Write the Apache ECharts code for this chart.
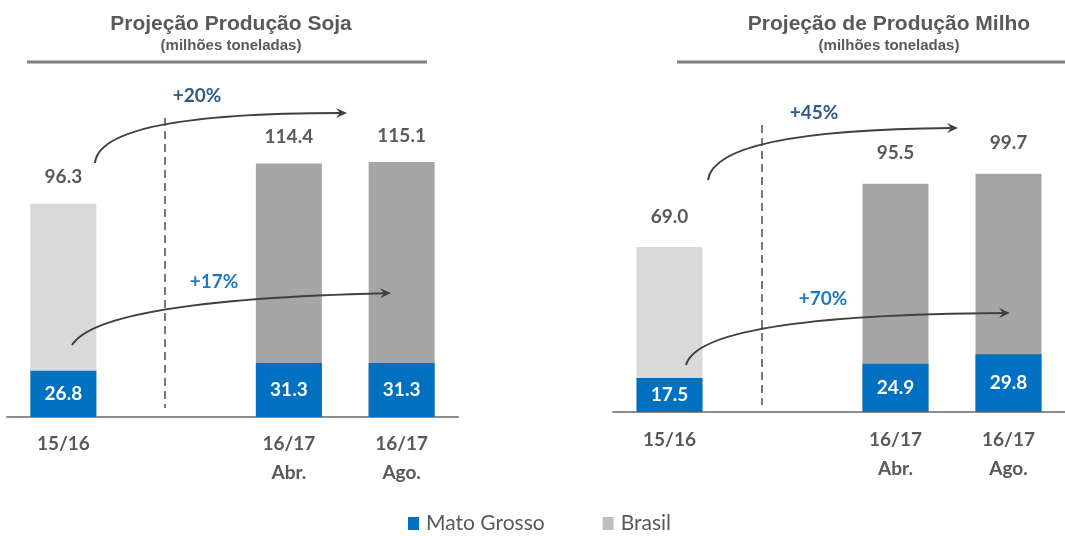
<!DOCTYPE html>
<html><head><meta charset="utf-8">
<script src="https://cdn.jsdelivr.net/npm/echarts@6/dist/echarts.min.js"></script>
<style>html,body{margin:0;padding:0;background:#fff}#c{width:1065px;height:536px}</style>
</head><body><div id="c"></div>
<script>
// ---- data ----
const categories = ['15/16', '', '16/17\nAbr.', '16/17\nAgo.'];
const sojaBrasil = [96.3, null, 114.4, 115.1];
const sojaMT = [26.8, null, 31.3, 31.3];
const milhoBrasil = [69.0, null, 95.5, 99.7];
const milhoMT = [17.5, null, 24.9, 29.8];
const sojaGrowth = ['+20%', '+17%'];
const milhoGrowth = ['+45%', '+70%'];
const seriesNames = ['Mato Grosso', 'Brasil'];
const chartTitles = ['Projeção Produção Soja', 'Projeção de Produção Milho'];
const subTitle = '(milhões toneladas)';

// ---- styles ----
const BLUE = '#0070C0', LIGHT = '#D9D9D9', DARK = '#A6A6A6', LEG_GRAY = '#BFBFBF';
const TXT = '#595959';
const NUM_FONT = 'Lato';
const chart = echarts.init(document.getElementById('c'));

function xAxisCfg(gi, margin) {
  return {
    type: 'category', gridIndex: gi, data: categories,
    axisTick: { show: false },
    axisLine: { lineStyle: { color: '#8C8C8C', width: 2 } },
    axisLabel: { color: TXT, fontFamily: NUM_FONT, fontWeight: 'bold', fontSize: 19, lineHeight: 29, margin: margin, interval: 0 }
  };
}
function yAxisCfg(gi, max) {
  return { type: 'value', gridIndex: gi, min: 0, max: max, show: false, splitLine: { show: false } };
}
function brasilSeries(gi, data, yi, dist) {
  return {
    name: seriesNames[1], type: 'bar', xAxisIndex: gi, yAxisIndex: yi, data: data,
    barWidth: 66, barGap: '-100%',
    itemStyle: { color: p => p.dataIndex === 0 ? LIGHT : DARK },
    label: { show: true, position: 'top', distance: dist, color: TXT, fontFamily: NUM_FONT, fontWeight: 'bold', fontSize: 19,
      formatter: p => p.value == null ? '' : Number(p.value).toFixed(1) },
    emphasis: { disabled: true }
  };
}
function mtSeries(gi, data, yi) {
  return {
    name: seriesNames[0], type: 'bar', xAxisIndex: gi, yAxisIndex: yi, data: data,
    barWidth: 66, barGap: '-100%',
    itemStyle: { color: BLUE },
    label: { show: true, position: 'inside', color: '#fff', fontFamily: NUM_FONT, fontWeight: 'bold', fontSize: 19,
      formatter: p => p.value == null ? '' : Number(p.value).toFixed(1) },
    emphasis: { disabled: true }
  };
}

// annotations (decorative arrows / dashed separators)
function arrow(x0, y0, cx, cy, x1, y1) {
  const dx = x1 - cx, dy = y1 - cy, len = Math.hypot(dx, dy);
  const ux = dx / len, uy = dy / len, nx = -uy, ny = ux;
  const L = 11, W = 5;
  return [
    { type: 'bezierCurve', z: 50, shape: { x1: x0, y1: y0, cpx1: cx, cpy1: cy, x2: x1 - ux * 6, y2: y1 - uy * 6 },
      style: { stroke: '#404040', lineWidth: 2, fill: null } },
    { type: 'polygon', z: 50, shape: { points: [[x1, y1], [x1 - ux * L + nx * W, y1 - uy * L + ny * W], [x1 - ux * 7, y1 - uy * 7], [x1 - ux * L - nx * W, y1 - uy * L - ny * W]] },
      style: { fill: '#404040' } }
  ];
}
function dashed(x, y0, y1) {
  return { type: 'line', z: 50, shape: { x1: x, y1: y0, x2: x, y2: y1 }, style: { stroke: '#404040', lineWidth: 1.4, lineDash: [8, 5] } };
}
function rule(x0, x1, y) {
  return { type: 'line', z: 50, shape: { x1: x0, y1: y, x2: x1, y2: y }, style: { stroke: '#7F7F7F', lineWidth: 3 } };
}
function pct(text, x, y, color) {
  return { type: 'text', z: 50, x: x, y: y, style: { text: text, fill: color, font: 'bold 19px Lato', align: 'center', verticalAlign: 'middle' } };
}

const graphics = [].concat(
  rule(27, 427, 62), rule(677, 1065, 62),
  dashed(165, 118, 408), dashed(762, 125, 405),
  arrow(95, 163, 100, 113, 347, 113),
  arrow(72, 345, 100, 300, 391, 293),
  arrow(708, 180, 715, 130, 958, 128),
  arrow(686, 365, 700, 315, 1010, 313),
  pct(sojaGrowth[0], 197, 96, '#2F5A8A'), pct(sojaGrowth[1], 214, 282, '#1F78C4'),
  pct(milhoGrowth[0], 814, 113, '#2F5A8A'), pct(milhoGrowth[1], 823, 299, '#1F78C4')
);

const titleCfg = (text, x) => ({
  text: text, subtext: subTitle, left: x, top: 14, textAlign: 'center', padding: 0, itemGap: 3,
  textStyle: { color: TXT, fontFamily: 'Liberation Sans', fontWeight: 'bold', fontSize: 21 },
  subtextStyle: { color: TXT, fontFamily: 'Liberation Sans', fontWeight: 'bold', fontSize: 15 }
});

chart.setOption({
  animation: false,
  title: [titleCfg(chartTitles[0], 231), titleCfg(chartTitles[1], 889)],
  legend: {
    left: 403, top: 508, itemWidth: 11, itemHeight: 13, itemGap: 58, icon: 'rect', selectedMode: false,
    textStyle: { color: TXT, fontFamily: NUM_FONT, fontSize: 21, padding: [0, 0, 0, 2] },
    data: [{ name: seriesNames[0], itemStyle: { color: BLUE } }, { name: seriesNames[1], itemStyle: { color: LEG_GRAY } }]
  },
  grid: [
    { left: 7, width: 451, top: 84.75, height: 332.25 },
    { left: 613, width: 457, top: 77.4, height: 334.6 }
  ],
  xAxis: [xAxisCfg(0, 12), xAxisCfg(1, 13)],
  yAxis: [yAxisCfg(0, 150), yAxisCfg(0, 193), yAxisCfg(1, 140), yAxisCfg(1, 172.5)],
  series: [
    brasilSeries(0, sojaBrasil, 0, 17),
    mtSeries(0, sojaMT, 1),
    brasilSeries(1, milhoBrasil, 2, 21),
    mtSeries(1, milhoMT, 3)
  ],
  graphic: graphics
});
</script></body></html>
